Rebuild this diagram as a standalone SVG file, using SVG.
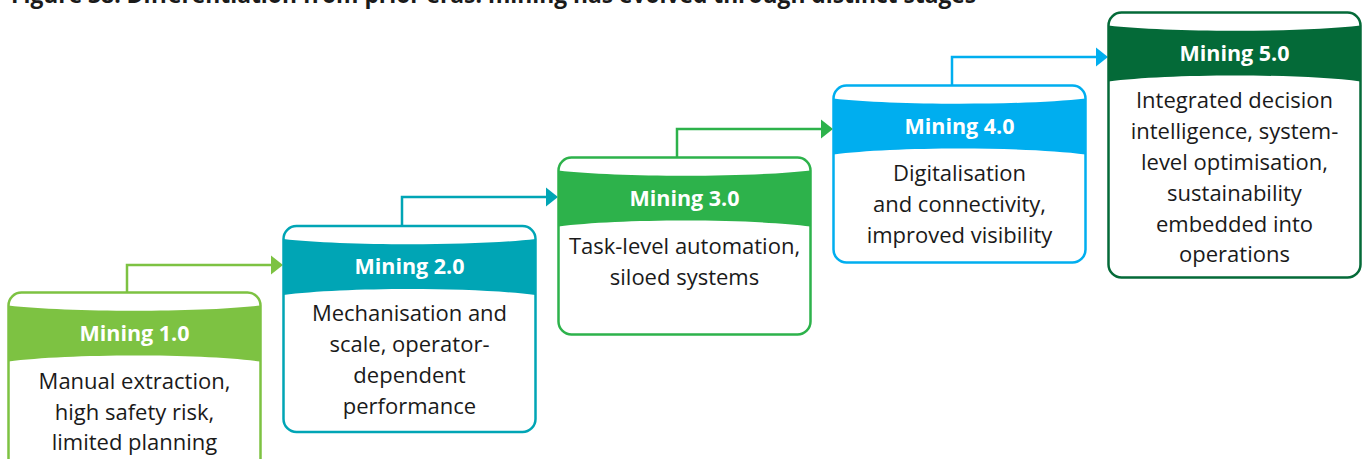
<svg xmlns="http://www.w3.org/2000/svg" width="1366" height="459" viewBox="0 0 1366 459">
<style>
.box{fill:#ffffff;stroke-width:2.5}
.hdr{font-family:"Open Sans","Liberation Sans",sans-serif;font-weight:700;font-size:21.5px;fill:#ffffff;text-anchor:middle}
.body{font-family:"Open Sans","Liberation Sans",sans-serif;font-size:22px;fill:#1a1a1a;text-anchor:middle}
.con{fill:none;stroke-width:2.5}
.title{font-family:"Open Sans","Liberation Sans",sans-serif;font-weight:700;font-size:22.8px;fill:#1a1a1a}
</style>
<defs>
<path id="band" d="M0,13 C60,20 192,20 252,13 L252,69 C192,61 60,61 0,69 Z"/>
</defs>
<rect width="1366" height="459" fill="#ffffff"/>
<text class="title" x="11" y="2.5">Figure 38: Differentiation from prior eras: mining has evolved through distinct stages</text>

<g id="connectors">
<path class="con" stroke="#7DC242" d="M127,292 V265 H272"/>
<polygon fill="#7DC242" points="271,255.5 283,265 271,274.5"/>
<path class="con" stroke="#00A5B5" d="M402,226 V197 H547"/>
<polygon fill="#00A5B5" points="546,187.5 558,197 546,206.5"/>
<path class="con" stroke="#2DB24B" d="M677,157 V129 H822"/>
<polygon fill="#2DB24B" points="821,119.5 833,129 821,138.5"/>
<path class="con" stroke="#00AEEF" d="M952,86 V57 H1097"/>
<polygon fill="#00AEEF" points="1096,47.5 1108,57 1096,66.5"/>
</g>

<g id="mining1" transform="translate(8.5,292.5)">
<rect class="box" stroke="#7DC242" width="252" height="185" rx="13"/>
<use href="#band" fill="#7DC242"/>
<text class="hdr" x="126" y="48">Mining 1.0</text>
<text class="body" x="126" y="96">Manual extraction,</text>
<text class="body" x="126" y="127">high safety risk,</text>
<text class="body" x="126" y="157">limited planning</text>
</g>

<g id="mining2" transform="translate(283.5,226)">
<rect class="box" stroke="#00A5B5" width="252" height="206" rx="13"/>
<use href="#band" fill="#00A5B5"/>
<text class="hdr" x="126" y="48">Mining 2.0</text>
<text class="body" x="126" y="95">Mechanisation and</text>
<text class="body" x="126" y="126">scale, operator-</text>
<text class="body" x="126" y="157">dependent</text>
<text class="body" x="126" y="188">performance</text>
</g>

<g id="mining3" transform="translate(558.5,157.5)">
<rect class="box" stroke="#2DB24B" width="252" height="177" rx="13"/>
<use href="#band" fill="#2DB24B"/>
<text class="hdr" x="126" y="48">Mining 3.0</text>
<text class="body" x="126" y="96">Task-level automation,</text>
<text class="body" x="126" y="127">siloed systems</text>
</g>

<g id="mining4" transform="translate(833.5,85.5)">
<rect class="box" stroke="#00AEEF" width="252" height="177" rx="13"/>
<use href="#band" fill="#00AEEF"/>
<text class="hdr" x="126" y="48">Mining 4.0</text>
<text class="body" x="126" y="95">Digitalisation</text>
<text class="body" x="126" y="126">and connectivity,</text>
<text class="body" x="126" y="157">improved visibility</text>
</g>

<g id="mining5" transform="translate(1108.5,12.5)">
<rect class="box" stroke="#046A38" width="252" height="265" rx="13"/>
<use href="#band" fill="#046A38"/>
<text class="hdr" x="126" y="48">Mining 5.0</text>
<text class="body" x="126" y="95">Integrated decision</text>
<text class="body" x="126" y="126">intelligence, system-</text>
<text class="body" x="126" y="157">level optimisation,</text>
<text class="body" x="126" y="188">sustainability</text>
<text class="body" x="126" y="219">embedded into</text>
<text class="body" x="126" y="249">operations</text>
</g>
</svg>
